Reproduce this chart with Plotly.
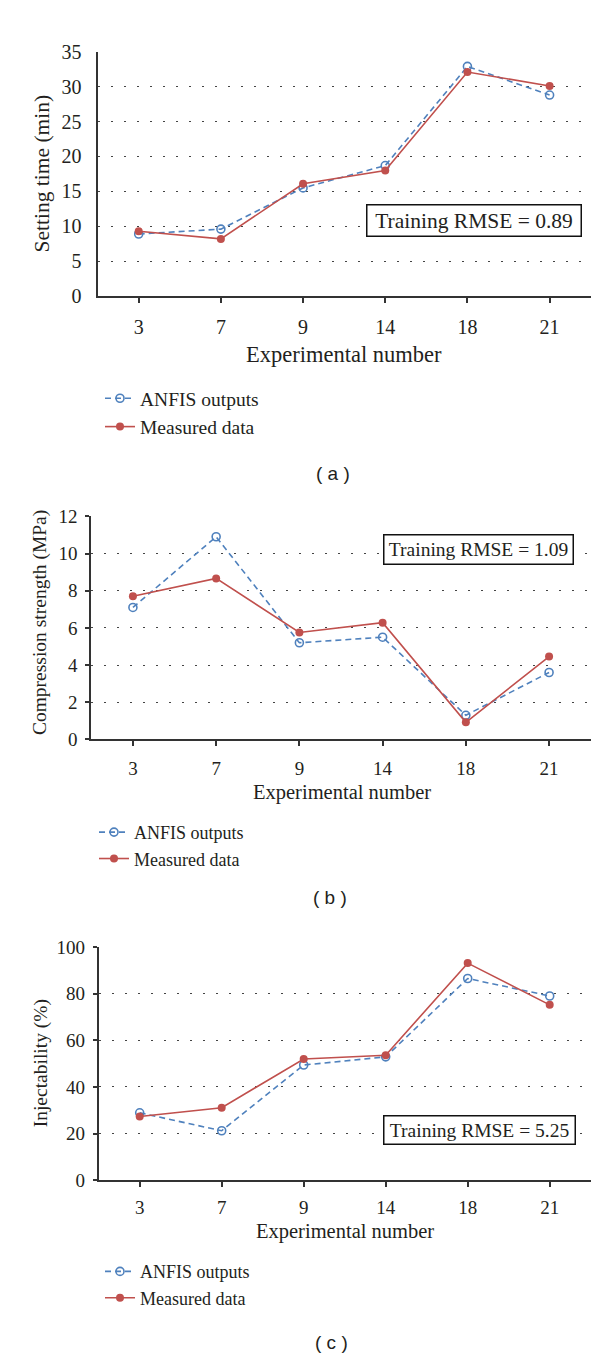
import plotly.graph_objects as go

W, H = 600, 1359

experiments = ["3", "7", "9", "14", "18", "21"]

setting_anfis = [8.9, 9.6, 15.5, 18.7, 32.9, 28.8]
setting_measured = [9.3, 8.2, 16.1, 18.0, 32.1, 30.1]

strength_anfis = [7.1, 10.9, 5.2, 5.5, 1.3, 3.6]
strength_measured = [7.7, 8.66, 5.75, 6.28, 0.92, 4.46]

inject_anfis = [28.9, 21.2, 49.4, 52.9, 86.5, 79.0]
inject_measured = [27.3, 31.1, 52.0, 53.6, 93.1, 75.2]

BLUE = "#4F81BD"
RED = "#C0504D"
SERIF = "Liberation Serif"
SANS = "Liberation Sans"
INK = "#231F20"


def py(px):
    # pixel row -> paper fraction
    return 1 - px / H


def px_x(px):
    return px / W


panels = [
    dict(
        anfis=setting_anfis, measured=setting_measured,
        ytitle="Setting time (min)", yrange=[0, 35], dtick=5,
        xdom=[89.6, 582.7], ydom=[281.7, 33.3],
        rmse="Training RMSE = 0.89", box=(465.5, 205, 209, 26),
        ytitle_pos=(33.5, 157.5), xtitle_pos=(336, 341),
        legend_pos=(92, 366), label="( a )", label_pos=(325, 462),
        tick=20, title=21.5, ticklen=0, ystand=10, xstand=7, legfont=19.5,
    ),
    dict(
        anfis=strength_anfis, measured=strength_measured,
        ytitle="Compression strength (MPa)", yrange=[0, 12], dtick=2,
        xdom=[83.3, 582.7], ydom=[732.3, 505.5],
        rmse="Training RMSE = 1.09", box=(470.2, 539.3, 184, 24),
        ytitle_pos=(32, 614), xtitle_pos=(333.8, 786),
        legend_pos=(86, 808), label="( b )", label_pos=(322, 893),
        tick=19, title=19.5, ticklen=4, ystand=4, xstand=6, legfont=18,
    ),
    dict(
        anfis=inject_anfis, measured=inject_measured,
        ytitle="Injectability (%)", yrange=[0, 100], dtick=20,
        xdom=[90.7, 582.7], ydom=[1180.3, 943.3],
        rmse="Training RMSE = 5.25", box=(471.2, 1129.7, 186, 23),
        ytitle_pos=(32.5, 1062), xtitle_pos=(336.5, 1232.7),
        legend_pos=(92, 1254.5), label="( c )", label_pos=(323, 1345),
        tick=19, title=19.5, ticklen=4, ystand=4, xstand=4, legfont=18,
    ),
]

fig = go.Figure()
annotations = []

for i, p in enumerate(panels):
    n = "" if i == 0 else str(i + 1)
    leg = "legend" if i == 0 else "legend" + str(i + 1)

    fig.add_trace(go.Scatter(
        x=experiments, y=p["anfis"], name="ANFIS outputs",
        mode="lines+markers", xaxis="x" + n, yaxis="y" + n, legend=leg,
        line=dict(color=BLUE, width=1.6, dash="6px,4px"),
        marker=dict(symbol="circle-open", size=8, color=BLUE,
                    line=dict(width=1.6, color=BLUE)),
    ))
    fig.add_trace(go.Scatter(
        x=experiments, y=p["measured"], name="Measured data",
        mode="lines+markers", xaxis="x" + n, yaxis="y" + n, legend=leg,
        line=dict(color=RED, width=1.6),
        marker=dict(symbol="circle", size=8, color=RED),
    ))

    fig.update_layout({
        "xaxis" + n: dict(
            domain=[px_x(p["xdom"][0]), px_x(p["xdom"][1])],
            anchor="y" + n, type="category", range=[-0.5, 5.5],
            showline=True, linecolor="#333", linewidth=2,
            ticks="outside", ticklen=5, tickcolor="#333", tickwidth=1.5,
            showgrid=False, zeroline=False,
            tickfont=dict(family=SERIF, size=p["tick"], color=INK),
            ticklabelstandoff=p["xstand"],
        ),
        "yaxis" + n: dict(
            domain=[py(p["ydom"][0]), py(p["ydom"][1])],
            anchor="x" + n, range=p["yrange"], dtick=p["dtick"],
            showline=True, linecolor="#333", linewidth=2,
            ticks="outside" if p["ticklen"] else "", ticklen=p["ticklen"],
            tickcolor="#333", tickwidth=1.5,
            showgrid=True, gridcolor="#444", gridwidth=1.3,
            griddash="2px,11px", zeroline=False,
            tickfont=dict(family=SERIF, size=p["tick"], color=INK),
            ticklabelstandoff=p["ystand"],
        ),
        leg: dict(
            x=px_x(p["legend_pos"][0]), y=py(p["legend_pos"][1]),
            xanchor="left", yanchor="top", bgcolor="rgba(0,0,0,0)",
            borderwidth=0,
            font=dict(family=SERIF, size=p["legfont"], color=INK),
            tracegroupgap=0,
        ),
    })

    bx, by, bw, bh = p["box"]
    annotations.append(dict(
        text=p["rmse"], xref="paper", yref="paper",
        x=px_x(bx), y=py(by), xanchor="center", yanchor="middle",
        showarrow=False, width=bw, height=bh,
        bordercolor="#111", borderwidth=1.5, borderpad=2, bgcolor="white",
        font=dict(family=SERIF, size=p["title"], color=INK),
    ))
    annotations.append(dict(
        text=p["ytitle"], xref="paper", yref="paper", textangle=-90,
        x=px_x(p["ytitle_pos"][0]), y=py(p["ytitle_pos"][1]),
        xanchor="center", yanchor="middle", showarrow=False,
        font=dict(family=SERIF, size=p["title"], color=INK),
    ))
    annotations.append(dict(
        text="Experimental number", xref="paper", yref="paper",
        x=px_x(p["xtitle_pos"][0]), y=py(p["xtitle_pos"][1]),
        xanchor="center", yanchor="middle", showarrow=False,
        font=dict(family=SERIF, size=p["title"] + 1, color=INK),
    ))
    annotations.append(dict(
        text=p["label"], xref="paper", yref="paper",
        x=px_x(p["label_pos"][0]), y=py(p["label_pos"][1]),
        xanchor="center", yanchor="middle", showarrow=False,
        font=dict(family=SANS, size=19, color=INK),
    ))

fig.update_layout(
    width=W, height=H,
    margin=dict(l=0, r=0, t=0, b=0),
    paper_bgcolor="white", plot_bgcolor="white",
    annotations=annotations,
    showlegend=True,
)

fig.write_html("out.html")
